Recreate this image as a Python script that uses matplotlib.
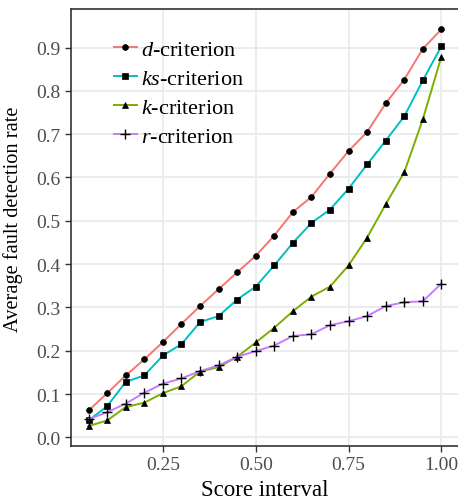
import matplotlib
matplotlib.use("Agg")
import matplotlib.pyplot as plt

plt.rcParams['font.family'] = ['Liberation Serif', 'DejaVu Serif']
plt.rcParams['mathtext.fontset'] = 'custom'
plt.rcParams['mathtext.it'] = 'Liberation Serif:italic'
plt.rcParams['mathtext.rm'] = 'Liberation Serif'

# score interval
x = [0.05, 0.10, 0.15, 0.20, 0.25, 0.30, 0.35, 0.40, 0.45, 0.50,
     0.55, 0.60, 0.65, 0.70, 0.75, 0.80, 0.85, 0.90, 0.95, 1.00]

d_crit = [0.062, 0.102, 0.143, 0.180, 0.220, 0.262, 0.303, 0.342, 0.381, 0.419,
          0.466, 0.520, 0.555, 0.609, 0.661, 0.705, 0.771, 0.826, 0.897, 0.942]
ks_crit = [0.039, 0.072, 0.128, 0.143, 0.189, 0.215, 0.266, 0.280, 0.318, 0.348,
           0.397, 0.449, 0.495, 0.526, 0.574, 0.630, 0.685, 0.741, 0.824, 0.903]
k_crit = [0.026, 0.039, 0.070, 0.080, 0.102, 0.118, 0.152, 0.162, 0.186, 0.219,
          0.253, 0.291, 0.325, 0.348, 0.397, 0.461, 0.538, 0.612, 0.734, 0.879]
r_crit = [0.042, 0.058, 0.078, 0.103, 0.124, 0.136, 0.153, 0.166, 0.186, 0.199,
          0.212, 0.234, 0.238, 0.259, 0.268, 0.280, 0.303, 0.312, 0.314, 0.355]

labels = ['$d$-criterion', '$ks$-criterion', '$k$-criterion', '$r$-criterion']
colors = ['#F8766D', '#00BFC4', '#7CAE00', '#C77CFF']
markers = ['o', 's', '^', '+']

fig = plt.figure(figsize=(4.58, 5.02), dpi=100)
ax = fig.add_axes([71 / 458, 55 / 502, 388 / 458, 437 / 502])

series = [d_crit, ks_crit, k_crit, r_crit]
for s, lab, c, m in zip(series, labels, colors, markers):
    ms = 6.5 if m == '+' else 4.2
    ax.plot(x, s, color=c, lw=1.4, label=lab, marker=m, ms=ms,
            mfc='black', mec='black', mew=1.0 if m == '+' else 0.5)

ax.set_xlim(0.0025, 1.0475)
ax.set_ylim(-0.020, 0.989)
ax.set_xticks([0.25, 0.50, 0.75, 1.00])
ax.set_xticklabels(['0.25', '0.50', '0.75', '1.00'])
ax.set_yticks([i / 10 for i in range(10)])
ax.set_yticklabels(['%.1f' % (i / 10) for i in range(10)])
ax.grid(True, color='#EBEBEB', lw=1.3)
ax.set_axisbelow(True)
for side in ['left', 'bottom', 'top']:
    ax.spines[side].set_color('#333333')
    ax.spines[side].set_linewidth(1.2)
ax.spines['right'].set_visible(False)
ax.tick_params(colors='#333333', labelcolor='#4D4D4D', labelsize=14, length=4, width=1)

ax.set_xlabel('Score interval', fontsize=16.5, labelpad=4)
ax.set_ylabel('Average fault detection rate', fontsize=14.7)
ax.yaxis.set_label_coords(-0.124, 0.522)

leg = ax.legend(loc='upper left', bbox_to_anchor=(0.06, 0.976), frameon=False,
                fontsize=16, handlelength=1.0, handletextpad=0.2, labelspacing=0.38)

fig.savefig('out.png', dpi=100)
